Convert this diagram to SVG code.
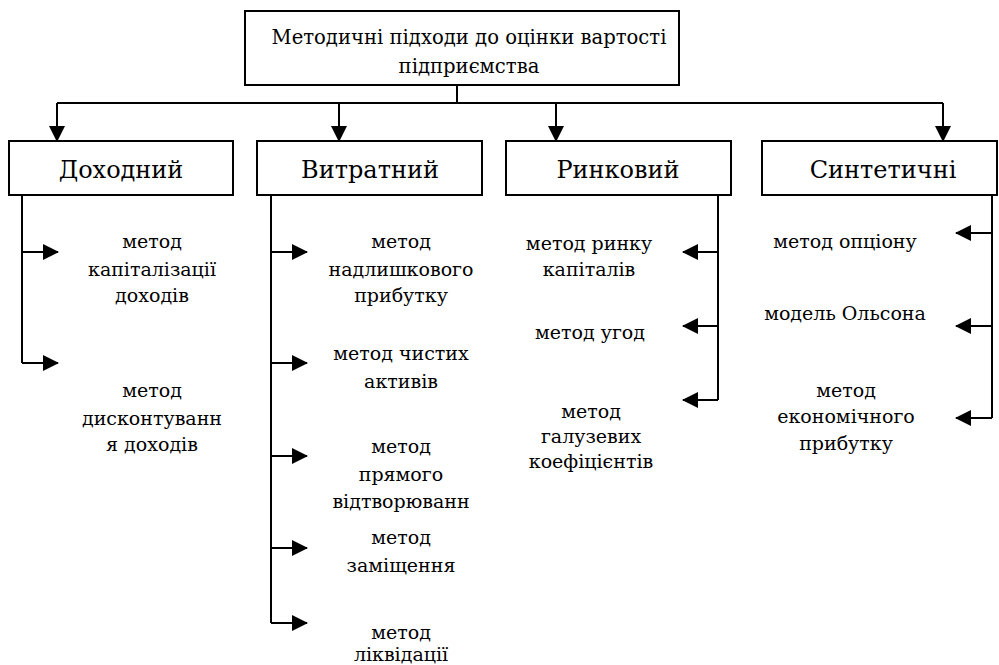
<svg xmlns="http://www.w3.org/2000/svg" width="999" height="665" viewBox="0 0 999 665">
<style>
.box{fill:#fff;stroke:#000;stroke-width:2}
.ln{fill:none;stroke:#000;stroke-width:2}
.t{fill:#000;text-anchor:middle}
.title{font-size:19.6px}
.cat{font-size:24px}
.it{font-size:19px}
</style>
<defs>
<marker id="ah" markerUnits="userSpaceOnUse" markerWidth="16" markerHeight="16" viewBox="0 0 16 16" refX="15" refY="8" orient="auto">
<path d="M0,0 L16,8 L0,16 Z" fill="#000"/>
</marker>
</defs>
<rect width="999" height="665" fill="#fff"/>
<g id="connectors">
<path class="ln" d="M457,85 V103"/>
<path class="ln" d="M57,103 H943"/>
<path class="ln" d="M57,103 V141" marker-end="url(#ah)"/>
<path class="ln" d="M339,103 V141" marker-end="url(#ah)"/>
<path class="ln" d="M556,103 V141" marker-end="url(#ah)"/>
<path class="ln" d="M943,103 V141" marker-end="url(#ah)"/>
<path class="ln" d="M22,195 V363"/>
<path class="ln" d="M22,252 H58" marker-end="url(#ah)"/>
<path class="ln" d="M22,363 H58" marker-end="url(#ah)"/>
<path class="ln" d="M271,195 V623"/>
<path class="ln" d="M271,252 H307" marker-end="url(#ah)"/>
<path class="ln" d="M271,363 H307" marker-end="url(#ah)"/>
<path class="ln" d="M271,456 H307" marker-end="url(#ah)"/>
<path class="ln" d="M271,548 H307" marker-end="url(#ah)"/>
<path class="ln" d="M271,623 H307" marker-end="url(#ah)"/>
<path class="ln" d="M718,195 V400"/>
<path class="ln" d="M718,252 H683" marker-end="url(#ah)"/>
<path class="ln" d="M718,326 H683" marker-end="url(#ah)"/>
<path class="ln" d="M718,400 H683" marker-end="url(#ah)"/>
<path class="ln" d="M992,195 V418"/>
<path class="ln" d="M992,233 H956" marker-end="url(#ah)"/>
<path class="ln" d="M992,326 H956" marker-end="url(#ah)"/>
<path class="ln" d="M992,418 H956" marker-end="url(#ah)"/>
</g>
<g font-family="'DejaVu Serif', serif">
<g id="root">
<rect class="box" x="245" y="11" width="434" height="74"/>
<text class="t title" x="469" y="44">Методичні підходи до оцінки вартості</text>
<text class="t title" x="469" y="73">підприємства</text>
</g>
<g id="dohodnyi">
<rect class="box" x="9" y="141" width="224" height="54"/>
<text class="t cat" x="121" y="178">Доходний</text>
</g>
<g id="vytratnyi">
<rect class="box" x="257" y="141" width="225" height="54"/>
<text class="t cat" x="370" y="178">Витратний</text>
</g>
<g id="rynkovyi">
<rect class="box" x="506" y="141" width="225" height="54"/>
<text class="t cat" x="618" y="178">Ринковий</text>
</g>
<g id="syntetychni">
<rect class="box" x="762" y="141" width="235" height="54"/>
<text class="t cat" x="883" y="178">Синтетичні</text>
</g>
<g id="d1"><text class="t it" x="152" y="248">метод</text><text class="t it" x="152" y="276">капіталізації</text><text class="t it" x="152" y="302">доходів</text></g>
<g id="d2"><text class="t it" x="152" y="397">метод</text><text class="t it" x="152" y="425">дисконтуванн</text><text class="t it" x="152" y="451">я доходів</text></g>
<g id="v1"><text class="t it" x="401" y="248">метод</text><text class="t it" x="401" y="276">надлишкового</text><text class="t it" x="401" y="302">прибутку</text></g>
<g id="v2"><text class="t it" x="401" y="360">метод чистих</text><text class="t it" x="401" y="388">активів</text></g>
<g id="v3"><text class="t it" x="401" y="453">метод</text><text class="t it" x="401" y="481">прямого</text><text class="t it" x="401" y="508">відтворюванн</text></g>
<g id="v4"><text class="t it" x="401" y="544">метод</text><text class="t it" x="401" y="572">заміщення</text></g>
<g id="v5"><text class="t it" x="401" y="639">метод</text><text class="t it" x="401" y="661">ліквідації</text></g>
<g id="r1"><text class="t it" x="589" y="250">метод ринку</text><text class="t it" x="589" y="276">капіталів</text></g>
<g id="r2"><text class="t it" x="590" y="339">метод угод</text></g>
<g id="r3"><text class="t it" x="591" y="418">метод</text><text class="t it" x="591" y="443">галузевих</text><text class="t it" x="591" y="468">коефіцієнтів</text></g>
<g id="s1"><text class="t it" x="845" y="248">метод опціону</text></g>
<g id="s2"><text class="t it" x="845" y="320">модель Ольсона</text></g>
<g id="s3"><text class="t it" x="846" y="397">метод</text><text class="t it" x="846" y="423">економічного</text><text class="t it" x="846" y="450">прибутку</text></g>
</g>
</svg>
